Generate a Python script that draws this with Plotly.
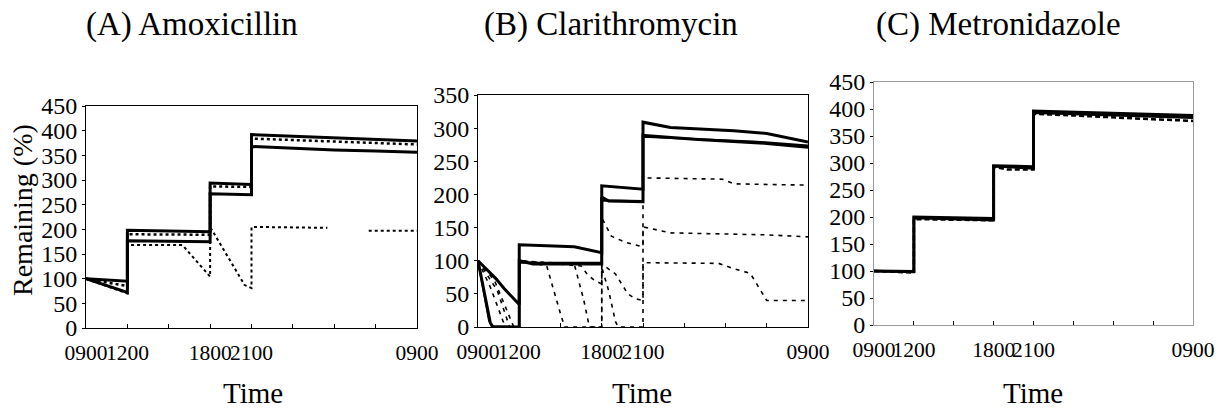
import plotly.graph_objects as go

W, H = 1230, 411
FONT = "Liberation Serif, Times New Roman, serif"

# ---------------- data ----------------
tick_hours = [0, 3, 9, 12, 24]
tick_labels = ["0900", "1200", "1800", "2100", "0900"]
panel_titles = ["(A) Amoxicillin", "(B) Clarithromycin", "(C) Metronidazole"]
x_title = "Time"
y_title = "Remaining (%)"

# Panel A - Amoxicillin
a1_t = [0, 3, 3, 9, 9, 12, 12, 15, 18, 21, 24]
a1_v = [100, 95, 198, 195, 294, 291, 392, 389, 385, 382, 379]
a2_t = [0, 3, 3, 9, 9, 12, 12, 15, 18, 21, 24]
a2_v = [100, 72, 177, 175, 272, 270, 368, 364, 361, 359, 356]
a3_t = [0, 3, 3, 9, 9, 12, 12, 15, 18, 21, 24]
a3_v = [100, 85, 190, 189, 287, 286, 384, 381, 378, 375, 372]
a4_t = [0, 3, 3, 7, 9, 9, 11.5, 12, 12, 17.5, None, 20.5, 24]
a4_v = [100, 70, 168, 168, 104, 205, 87, 81, 205, 203, None, 197, 197]

# Panel B - Clarithromycin
b1_t = [0, 1.3, 1.9, 3, 3, 7, 9, 9, 12, 12, 14, 18.6, 21, 24]
b1_v = [100, 73, 58, 34, 124, 121, 112, 213, 208, 309, 301, 296, 292, 279]
b2_t = [0, 0.9, 1.1, 3, 3, 4, 9, 9, 9.5, 12, 12, 16, 21, 24]
b2_v = [100, 6, 0, 0, 100, 95, 95, 196, 190, 189, 289, 283, 277, 271]
b3_t = [0, 0.8, 1.0, 3, 3, 9, 9, 12, 12, 16, 20, 24]
b3_v = [100, 10, 1, 0, 97, 97, 191, 190, 287, 284, 280, 274]
b4_t = [0, 0.9, 1.8, 2.0, 3, 3, 4, 5, 6, 6.3, 9, 9, 9.5, 10, 10.2, 12, 12, 17.5, 18.6, 19.8, 21, 24]
b4_v = [100, 60, 10, 0, 0, 100, 97, 92, 20, 0, 0, 90, 55, 8, 0, 0, 97, 96, 88, 81, 40, 40]
b5_t = [0, 1.4, 2.3, 3, 3, 7, 7.7, 8.1, 9, 9, 10, 10.9, 11.4, 12, 12, 13, 14, 21, 24]
b5_v = [100, 55, 0, 0, 100, 95, 40, 0, 0, 95, 80, 50, 43, 40, 151, 146, 142, 139, 136]
b6_t = [0, 1.2, 2.6, 3, 3, 7.5, 8, 8.5, 9, 9, 9.7, 10.7, 12, 12, 17.8, 18.6, 24]
b6_v = [100, 70, 0, 0, 100, 92, 78, 70, 65, 165, 137, 128, 121, 225, 223, 216, 214]

# Panel C - Metronidazole
c1_t = [0, 3, 3, 9, 9, 12, 12, 15, 18, 21, 24]
c1_v = [100, 99, 200, 197, 295, 293, 396, 394, 391, 389, 388]
c2_t = [0, 3, 3, 9, 9, 12, 12, 15, 18, 21, 24]
c2_v = [100, 98, 198, 194, 294, 290, 393, 391, 388, 386, 384]
c3_t = [0, 3, 3, 9, 9, 10, 12, 12, 15, 18, 21, 24]
c3_v = [100, 97, 196, 194, 293, 288, 288, 391, 388, 384, 381, 378]

y_ranges = [450, 350, 450]
y_dticks = [50, 50, 50]

# ---------------- layout geometry (pixels) ----------------
panels = [
    dict(x0=86, x1=417, y0=328, y1=106, frame="black"),
    dict(x0=478, x1=808, y0=327, y1=95, frame="black"),
    dict(x0=874, x1=1193, y0=325, y1=82, frame="#9a9a9a"),
]
title_pos = [(192, 24), (611, 24), (998, 24)]
time_pos = [(253, 393), (642, 393), (1033, 393)]


def px(x):
    return x / W


def py(y):
    return 1 - y / H


fig = go.Figure()

series = [
    [(a1_t, a1_v, "solid", 3), (a2_t, a2_v, "solid", 3), (a3_t, a3_v, "dot", 2.5), (a4_t, a4_v, "dot", 2)],
    [(b1_t, b1_v, "solid", 3), (b2_t, b2_v, "solid", 3), (b3_t, b3_v, "solid", 2),
     (b4_t, b4_v, "4px,5px", 1.6), (b5_t, b5_v, "4px,5px", 1.6), (b6_t, b6_v, "4px,5px", 1.6)],
    [(c1_t, c1_v, "solid", 3), (c2_t, c2_v, "solid", 2.5), (c3_t, c3_v, "5px,3px", 2.5)],
]

for i, (p, sers) in enumerate(zip(panels, series)):
    xa = "x" if i == 0 else f"x{i+1}"
    ya = "y" if i == 0 else f"y{i+1}"
    for t, v, dash, w in sers:
        fig.add_trace(go.Scatter(x=t, y=v, mode="lines", xaxis=xa, yaxis=ya,
                                 line=dict(color="black", width=w, dash=dash),
                                 showlegend=False, hoverinfo="skip"))
    key = "" if i == 0 else str(i + 1)
    fig.layout["xaxis" + key] = dict(
        domain=[px(p["x0"]), px(p["x1"])], anchor=ya, range=[0, 24],
        tickvals=tick_hours, ticktext=tick_labels, tickangle=0, automargin=False,
        ticks="inside", ticklen=4, tickcolor="black", ticklabelstandoff=5,
        minor=dict(dtick=3, tick0=0, ticks="inside", ticklen=4, tickcolor="black"),
        showgrid=False, zeroline=False, showline=True, mirror=True,
        linecolor=p["frame"], linewidth=1,
        tickfont=dict(family=FONT, size=21.5, color="black"),
    )
    fig.layout["yaxis" + key] = dict(
        domain=[py(p["y0"]), py(p["y1"])], anchor=xa, range=[0, y_ranges[i]],
        dtick=y_dticks[i], ticks="outside", ticklen=3, tickcolor="black", automargin=False,
        showgrid=False, zeroline=False, showline=True, mirror=True,
        linecolor=p["frame"], linewidth=1,
        tickfont=dict(family=FONT, size=24, color="black"),
    )

annotations = []
for (tx, ty), txt in zip(title_pos, panel_titles):
    annotations.append(dict(x=px(tx), y=py(ty), xref="paper", yref="paper", text=txt,
                            showarrow=False, xanchor="center", yanchor="middle",
                            font=dict(family=FONT, size=33, color="black")))
for (tx, ty) in time_pos:
    annotations.append(dict(x=px(tx), y=py(ty), xref="paper", yref="paper", text=x_title,
                            showarrow=False, xanchor="center", yanchor="middle",
                            font=dict(family=FONT, size=29, color="black")))
annotations.append(dict(x=px(22), y=py(210), xref="paper", yref="paper", text=y_title,
                        showarrow=False, textangle=-90, xanchor="center", yanchor="middle",
                        font=dict(family=FONT, size=28, color="black")))

fig.update_layout(width=W, height=H, margin=dict(l=0, r=0, t=0, b=0),
                  paper_bgcolor="white", plot_bgcolor="white",
                  annotations=annotations)

fig.write_html("out.html")
